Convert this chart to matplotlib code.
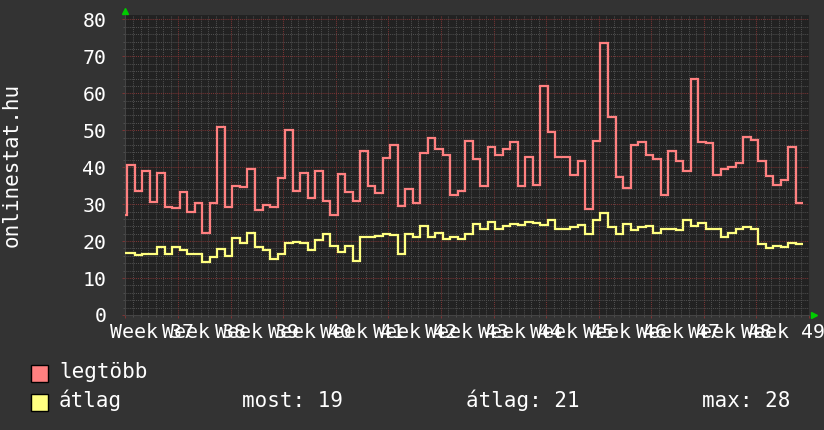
import numpy as np
import matplotlib.pyplot as plt
from matplotlib.patches import Rectangle
from matplotlib.ticker import MultipleLocator

"""
onlinestat.hu daily visitors, rrdtool-like dark look
"""

# week numbers shown under the x axis
WEEKS = list(range(37, 50))
# daily maximum (legtöbb)
LEGTOBB = [
    27.0, 40.7, 33.6, 39.1, 30.7, 38.5, 29.2, 29.0, 33.2, 27.8, 30.2, 22.1,
    30.2, 51.0, 29.2, 35.0, 34.7, 39.5, 28.4, 29.9, 29.1, 37.2, 50.2, 33.5,
    38.4, 31.8, 38.9, 30.8, 27.1, 38.1, 33.3, 30.9, 44.3, 35.0, 33.0, 42.6,
    45.9, 29.6, 34.2, 30.2, 43.8, 47.8, 44.8, 43.3, 32.6, 33.5, 47.2, 42.2,
    34.9, 45.4, 43.2, 44.9, 46.7, 34.9, 42.7, 35.2, 61.9, 49.5, 42.7, 42.7,
    38.0, 41.8, 28.6, 47.2, 73.6, 53.5, 37.3, 34.3, 45.9, 46.9, 43.3, 42.2,
    32.6, 44.3, 41.8, 38.9, 63.8, 46.7, 46.5, 37.8, 39.5, 40.0, 41.2, 48.3,
    47.5, 41.8, 37.7, 35.3, 36.5, 45.6, 30.3,
]
# daily average (átlag)
ATLAG = [
    16.7, 16.7, 16.2, 16.4, 16.6, 18.5, 16.5, 18.3, 17.6, 16.6, 16.4, 14.3,
    15.6, 17.8, 16.0, 20.8, 19.4, 22.2, 18.5, 17.6, 15.2, 16.5, 19.6, 19.8,
    19.5, 17.5, 20.3, 21.9, 18.7, 17.1, 18.7, 14.7, 21.2, 21.0, 21.5, 21.9,
    21.7, 16.5, 21.9, 21.2, 24.2, 21.0, 22.3, 20.6, 21.2, 20.6, 21.9, 24.6,
    23.2, 25.2, 23.2, 24.0, 24.5, 24.3, 25.2, 25.0, 24.3, 25.6, 23.4, 23.2,
    23.7, 24.3, 21.9, 25.6, 27.7, 23.7, 21.9, 24.5, 23.1, 23.8, 24.0, 22.3,
    23.2, 23.4, 23.1, 25.7, 24.1, 24.8, 23.2, 23.2, 21.1, 22.1, 23.4, 23.8,
    23.2, 19.1, 18.2, 18.8, 18.3, 19.5, 19.1,
]

W, H = 824, 430
BG = "#333333"
CANVAS = "#222222"
RED = "#ff8080"
YELLOW = "#ffff80"
MGRID = "#7a3434"
GRID = "#4e4e4e"
ARROW = "#00cc00"
# day boundaries are shifted a bit against the week lines
DAY_SHIFT = -0.76
AXIS_FONT = 14.3
LEGEND_FONT = 15


def main():
    plt.rcParams["font.family"] = ["DejaVu Sans Mono"]
    plt.rcParams["font.size"] = LEGEND_FONT

    fig = plt.figure(figsize=(W / 100, H / 100), dpi=100, facecolor=BG)
    ax = fig.add_axes([125.5 / W, 1 - 315 / H, (809 - 125.5) / W, 300 / H])
    ax.set_facecolor(CANVAS)

    n_days = len(WEEKS) * 7
    edges = np.arange(len(LEGTOBB) + 1) + DAY_SHIFT

    ax.stairs(LEGTOBB, edges, baseline=None, color=RED, lw=1.6, zorder=3)
    ax.stairs(ATLAG, edges, baseline=None, color=YELLOW, lw=1.6, zorder=3)

    ax.set_xlim(0, n_days)
    ax.set_ylim(0, 81.2)

    # grid: weeks / tens in red, days / twos in grey
    ax.xaxis.set_major_locator(MultipleLocator(7))
    ax.xaxis.set_minor_locator(MultipleLocator(1))
    ax.yaxis.set_major_locator(MultipleLocator(10))
    ax.yaxis.set_minor_locator(MultipleLocator(2))
    ax.set_axisbelow(True)
    ax.grid(which="minor", color=GRID, linestyle=(0, (1, 1)), lw=0.75)
    ax.grid(which="major", color=MGRID, linestyle=(0, (1, 1)), lw=0.75)

    ax.tick_params(which="major", colors=MGRID, length=2.2, width=0.75)
    ax.tick_params(which="minor", colors=GRID, length=1.5, width=0.75)
    ax.tick_params(axis="y", which="major", labelcolor="white",
                   labelsize=AXIS_FONT, pad=11.5)
    ax.tick_params(axis="x", labelbottom=False)

    for side in ("top", "right"):
        ax.spines[side].set_visible(False)
    for side in ("left", "bottom"):
        ax.spines[side].set_color("#444444")
        ax.spines[side].set_linewidth(0.75)

    # week labels centred in each week, they overlap like the original
    for k, wk in enumerate(WEEKS):
        ax.text(k * 7 + 3.5, -23.5 / 300, f"Week {wk}", color="white",
                fontsize=AXIS_FONT, ha="center", va="baseline",
                transform=ax.get_xaxis_transform())

    # axis arrows
    ax.plot([0], [1 + 4 / 300], marker="^", ms=4.5, color=ARROW,
            transform=ax.transAxes, clip_on=False)
    ax.plot([1 + 5 / 683], [0], marker=">", ms=4.5, color=ARROW,
            transform=ax.transAxes, clip_on=False)

    fig.text(12 / W, 1 - 165 / H, "onlinestat.hu", rotation=90, color="white",
             ha="center", va="center")

    # legend
    rows = [("legtöbb", RED, 378.5), ("átlag", YELLOW, 407.0)]
    for label, color, base in rows:
        fig.add_artist(Rectangle((31 / W, 1 - (base + 3.5) / H), 17 / W, 17 / H,
                                 transform=fig.transFigure, facecolor=color,
                                 edgecolor="black", lw=1))
        fig.text(59 / W, 1 - base / H, label, color="white", va="baseline")

    stats = [
        (242, f"most: {ATLAG[-1]:.0f}"),
        (466, f"átlag: {np.mean(ATLAG):.0f}"),
        (702, f"max: {max(ATLAG):.0f}"),
    ]
    for x, txt in stats:
        fig.text(x / W, 1 - 407.0 / H, txt, color="white", va="baseline")

    fig.savefig("out.png", dpi=100, facecolor=BG)


if __name__ == "__main__":
    main()
